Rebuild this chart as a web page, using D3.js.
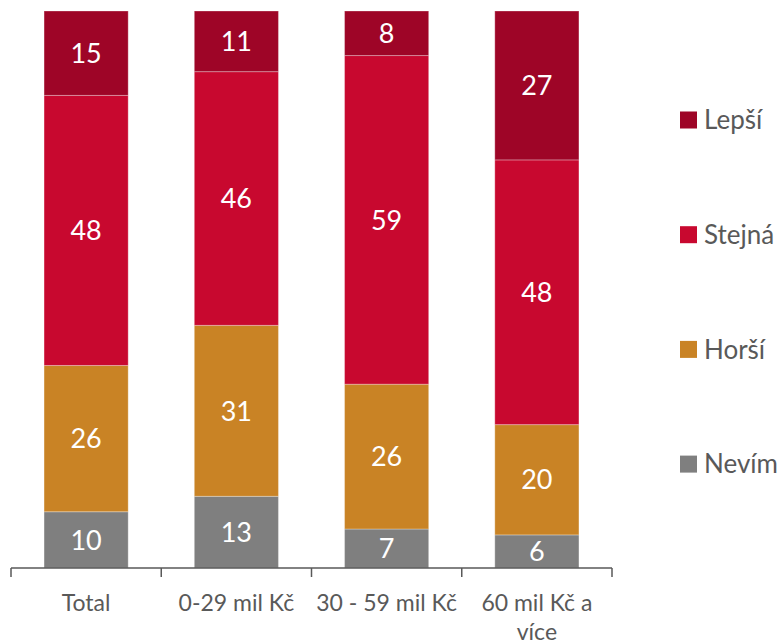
<!DOCTYPE html>
<html>
<head>
<meta charset="utf-8">
<script src="https://cdn.jsdelivr.net/npm/d3@7"></script>
<style>
  body { margin: 0; background: #fff; }
  text { font-family: Lato, "Open Sans", sans-serif; }
</style>
</head>
<body>
<svg id="chart" width="784" height="644"></svg>
<script>
// data
var categories = ["Total", "0-29 mil Kč", "30 - 59 mil Kč", "60 mil Kč a více"];
var nevim  = [10, 13, 7, 6];
var horsi  = [26, 31, 26, 20];
var stejna = [48, 46, 59, 48];
var lepsi  = [15, 11, 8, 27];
var seriesNames = ["Nevím", "Horší", "Stejná", "Lepší"];
var seriesColors = ["#7f7f7f", "#c98325", "#c8082f", "#9e0527"];

var rows = categories.map(function(c, i){
	return {cat: c, "Nevím": nevim[i], "Horší": horsi[i], "Stejná": stejna[i], "Lepší": lepsi[i]};
});

var svg = d3.select("#chart");

var x = d3.scaleBand()
	.domain(categories)
	.range([11, 612])
	.paddingInner(0.44)
	.paddingOuter(0.22);

var y = d3.scaleLinear().domain([0, 1]).range([568, 11]);

var stack = d3.stack()
	.keys(seriesNames)
	.offset(d3.stackOffsetExpand);
var layers = stack(rows);

var g = svg.append("g");
var layer = g.selectAll(".layer")
	.data(layers)
	.enter().append("g")
	.attr("class", "layer")
	.attr("fill", function(d, i){ return seriesColors[i]; });

layer.selectAll("rect")
	.data(function(d){ return d; })
	.enter().append("rect")
	.attr("x", function(d){ return x(d.data.cat); })
	.attr("width", x.bandwidth())
	.attr("y", function(d){ return y(d[1]); })
	.attr("height", function(d){ return y(d[0]) - y(d[1]); })
	.attr("stroke", "rgba(255,255,255,0.3)")
	.attr("stroke-width", 1);

// value labels
layer.selectAll("text")
	.data(function(d){ var key = d.key; return d.map(function(p){ return {p: p, key: key}; }); })
	.enter().append("text")
	.attr("x", function(d){ return x(d.p.data.cat) + x.bandwidth() / 2; })
	.attr("y", function(d){ return (y(d.p[0]) + y(d.p[1])) / 2; })
	.attr("dy", "0.36em")
	.attr("text-anchor", "middle")
	.attr("fill", "#fff")
	.attr("font-size", "27px")
	.text(function(d){ return d.p.data[d.key]; });

// x axis with ticks at band boundaries
var axisG = svg.append("g");
axisG.append("line")
	.attr("x1", 11).attr("x2", 612)
	.attr("y1", 568).attr("y2", 568)
	.attr("stroke", "#595959").attr("stroke-width", 1.5);
var bounds = categories.map(function(c){ return x(c) - x.step() * x.paddingInner() / 2; });
bounds.push(612);
bounds[0] = 11;
axisG.selectAll(".tick")
	.data(bounds)
	.enter().append("line")
	.attr("x1", function(d){ return d; }).attr("x2", function(d){ return d; })
	.attr("y1", 568).attr("y2", 577)
	.attr("stroke", "#595959").attr("stroke-width", 1.5);

var labelLines = {"60 mil Kč a více": ["60 mil Kč a", "více"]};
axisG.selectAll(".lbl")
	.data(categories)
	.enter().append("text")
	.attr("class", "lbl")
	.attr("text-anchor", "middle")
	.attr("fill", "#595959")
	.attr("font-size", "23px")
	.each(function(c){
		var lines = labelLines[c] || [c];
		var t = d3.select(this);
		lines.forEach(function(l, k){
			t.append("tspan")
				.attr("x", x(c) + x.bandwidth() / 2)
				.attr("y", 611 + k * 29)
				.text(l);
		});
	});

// legend (top to bottom: Lepší, Stejná, Horší, Nevím)
var legendItems = seriesNames.slice().reverse();
var legendColors = seriesColors.slice().reverse();
var lg = svg.append("g").selectAll("g")
	.data(legendItems)
	.enter().append("g")
	.attr("transform", function(d, i){ return "translate(680," + (120 + i * 114.7) + ")"; });
lg.append("rect")
	.attr("x", 0).attr("y", -8.5)
	.attr("width", 17).attr("height", 17)
	.attr("fill", function(d, i){ return legendColors[i]; });
lg.append("text")
	.attr("x", 24).attr("y", 0)
	.attr("dy", "0.36em")
	.attr("fill", "#595959")
	.attr("font-size", "26px")
	.text(function(d){ return d; });
</script>
</body>
</html>
